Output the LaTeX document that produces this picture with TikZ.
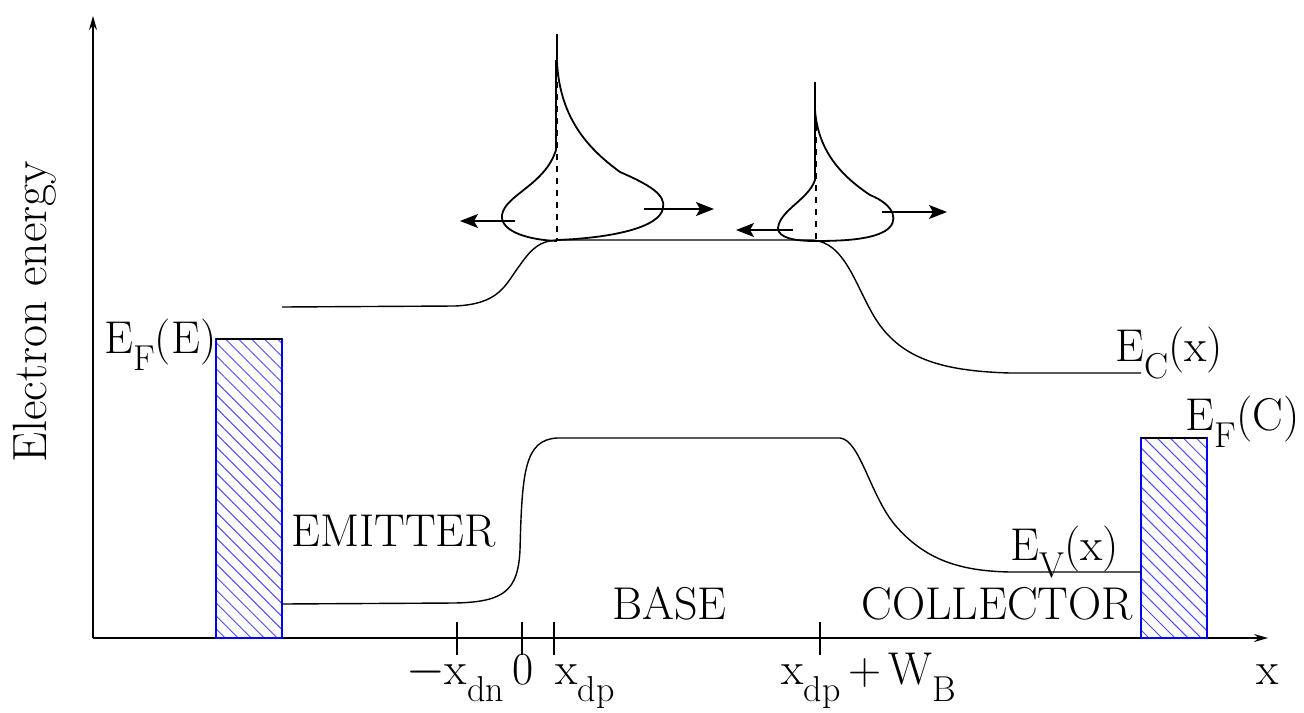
\documentclass[tikz,border=0pt]{standalone}
\usetikzlibrary{arrows.meta,patterns.meta}
\newcommand{\lsub}[1]{\raisebox{-0.37em}{\fontsize{18}{18}\selectfont #1}}
\begin{document}
\begin{tikzpicture}[x=0.5pt,y=-0.5pt,
  lbl/.style={font=\fontsize{23}{26}\selectfont, inner sep=0pt},
  band/.style={line width=0.7pt},
  bar/.style={draw=blue, line width=0.8pt, pattern={Lines[angle=-45,distance=4.6pt,line width=0.5pt]}, pattern color=blue!70},
  tick/.style={line width=0.6pt},
  distr/.style={line width=0.9pt},
  darrow/.style={line width=0.7pt, -{Stealth[length=9pt,width=7pt,inset=2pt]}}]
\useasboundingbox (0,0) rectangle (1304,712);
% axes
\coordinate (o) at (93,638);
\coordinate (ytop) at (93,16);
\coordinate (xend) at (1268,638);
\draw[line width=0.7pt,-{Stealth[length=7pt,width=4pt]}] (o) -- (ytop);
\draw[line width=0.7pt,-{Stealth[length=7pt,width=4pt]}] (o) -- (xend);
\node[lbl, font=\fontsize{24}{26}\selectfont, rotate=90] (ylab) at (35,312) {Electron energy};
% metal contacts
\draw[bar] (216,638) rectangle (282,339);
\draw[black,line width=0.6pt] (216,339) -- (282,339);
\draw[bar] (1141,638) rectangle (1207,438);
\draw[black,line width=0.6pt] (1141,438) -- (1207,438);
% conduction band
\draw[band] (282,307) -- (455,306)
  .. controls (500,304) and (505,285) .. (520,265)
  .. controls (532,248) and (540,241) .. (557,240)
  -- (812,240)
  .. controls (845,242) and (855,285) .. (875,318)
  .. controls (900,358) and (940,371) .. (1010,373)
  -- (1141,373);
% valence band
\draw[band] (282,604) -- (455,603)
  .. controls (505,602) and (518,590) .. (520,550)
  .. controls (522,470) and (525,440) .. (557,438)
  -- (840,438)
  .. controls (860,440) and (870,495) .. (895,525)
  .. controls (925,560) and (960,571) .. (1010,572)
  -- (1141,572);
% ticks
\foreach \t/\xx in {a/457,b/522,c/554,d/820}{
  \draw[tick] (\xx,622) -- (\xx,655);
}
% tick labels
\node[lbl, anchor=base] (tdn) at (455,684) {$-$x\lsub{dn}};
\node[lbl, anchor=base] (t0) at (523,684) {0};
\node[lbl, anchor=base west] (tdp) at (555,684) {x\lsub{dp}};
\node[lbl, anchor=base west] (tdw) at (781,684) {x\lsub{dp}\,+\,W\lsub{B}};
\node[lbl, anchor=base west] (xl) at (1256,684) {x};
% region labels
\node[lbl, anchor=base west] (em) at (291,546) {EMITTER};
\node[lbl, anchor=base west] (ba) at (612,619) {BASE};
\node[lbl, anchor=base west] (co) at (861,619) {COLLECTOR};
% band labels
\node[lbl, anchor=base west] (efe) at (104,353) {E\lsub{F}(E)};
\node[lbl, anchor=base west] (ec) at (1115,361) {E\lsub{C}(x)};
\node[lbl, anchor=base west] (ev) at (1010,560) {E\lsub{V}(x)};
\node[lbl, anchor=base east] (efc) at (1300,430) {E\lsub{F}(C)};
% distribution 1
\draw[distr] (557,34) -- (557,62)
  .. controls (560,120) and (590,150) .. (620,172)
  .. controls (650,185) and (666,195) .. (663,208)
  .. controls (660,228) and (610,238) .. (557,240);
\draw[distr] (556,60) -- (556,150)
  .. controls (545,185) and (505,195) .. (502,215)
  .. controls (500,232) and (530,240) .. (557,241);
\draw[dashed, line width=0.7pt] (557,70) -- (557,240);
\coordinate (l1s) at (515,221);
\coordinate (l1e) at (460,221);
\coordinate (r1s) at (644,209);
\coordinate (r1e) at (714,209);
\draw[darrow] (l1s) -- (l1e);
\draw[darrow] (r1s) -- (r1e);
% distribution 2
\draw[distr] (815,82) -- (815,110)
  .. controls (818,150) and (840,175) .. (870,195)
  .. controls (895,205) and (900,222) .. (885,231)
  .. controls (870,240) and (840,241) .. (815,241);
\draw[distr] (815,110) -- (815,180)
  .. controls (808,200) and (780,210) .. (778,228)
  .. controls (778,238) and (795,241) .. (815,241);
\draw[dashed, line width=0.7pt] (816,125) -- (816,241);
\coordinate (l2s) at (793,230);
\coordinate (l2e) at (736,230);
\coordinate (r2s) at (882,212);
\coordinate (r2e) at (947,212);
\draw[darrow] (l2s) -- (l2e);
\draw[darrow] (r2s) -- (r2e);
\end{tikzpicture}
\end{document}
